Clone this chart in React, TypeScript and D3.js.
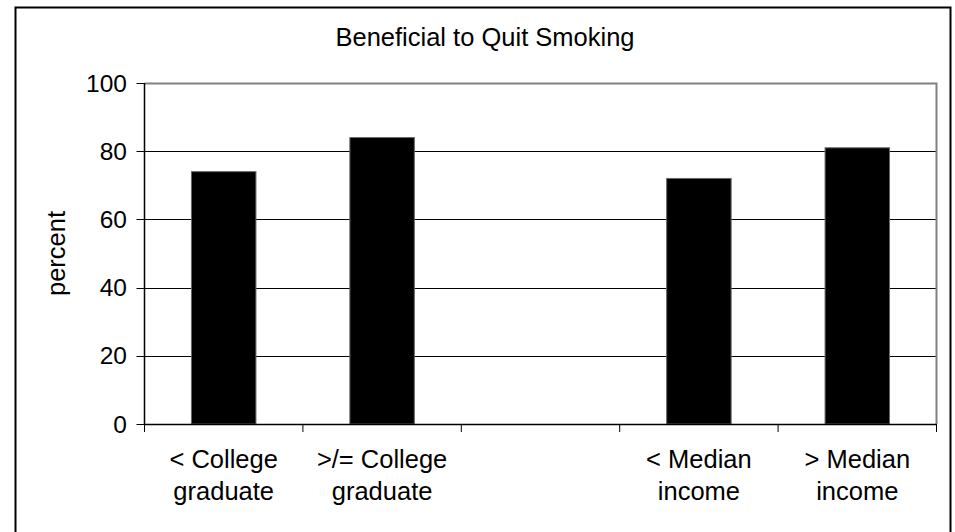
import React from "react";
import * as d3 from "d3";

// Category slots along the x axis (one slot intentionally left empty as a separator)
const categoryIds = ["lessCollege", "collegePlus", "gap", "lessMedian", "moreMedian"];
const categoryLines = [
  ["< College", "graduate"],
  [">/= College", "graduate"],
  [],
  ["< Median", "income"],
  ["> Median", "income"],
];
// Percent who think it is beneficial to quit smoking (null = empty slot)
const percentValues: (number | null)[] = [74, 84, null, 72, 81];
const yTicks = [0, 20, 40, 60, 80, 100];
const chartTitle = "Beneficial to Quit Smoking";
const yLabel = "percent";

const W = 955;
const H = 532;
const plot = { left: 144.5, right: 936.5, top: 83, bottom: 424 };
const FONT = "'Liberation Sans', Arial, sans-serif";

export default function App() {
  const x = d3
    .scaleBand<string>()
    .domain(categoryIds)
    .range([plot.left, plot.right])
    .paddingInner(0.593)
    .paddingOuter(0.2965);
  const y = d3.scaleLinear().domain([0, 100]).range([plot.bottom, plot.top]);
  const step = x.step();
  const boundaries = d3.range(categoryIds.length + 1).map((i) => plot.left + i * step);

  return (
    <svg
      width={W}
      height={H}
      style={{ position: "absolute", left: 0, top: 0, background: "#fff", display: "block" }}
      fontFamily={FONT}
    >
      <rect x={0} y={0} width={W} height={H} fill="#fff" />
      {/* outer chart frame (runs past the bottom edge) */}
      <rect x={15.5} y={7.5} width={935} height={530} fill="none" stroke="#000" strokeWidth={2} />

      <text x={485} y={46} fontSize={25.5} textAnchor="middle" fill="#000">
        {chartTitle}
      </text>

      {/* gridlines */}
      {yTicks
        .filter((t) => t > 0 && t < 100)
        .map((t) => (
          <line key={t} x1={plot.left} x2={plot.right} y1={Math.round(y(t)) + 0.5} y2={Math.round(y(t)) + 0.5} stroke="#000" strokeWidth={1} />
        ))}
      {/* plot area frame (top/right) */}
      <path
        d={`M${plot.left},${Math.round(plot.top) + 0.5}H${plot.right}V${plot.bottom}`}
        fill="none"
        stroke="#808080"
        strokeWidth={2}
      />

      {/* bars */}
      {percentValues.map((v, i) =>
        v == null ? null : (
          <rect
            key={categoryIds[i]}
            x={x(categoryIds[i])!}
            y={y(v)}
            width={x.bandwidth()}
            height={y(0) - y(v)}
            fill="#000"
            stroke="#666"
            strokeWidth={1}
          />
        )
      )}

      {/* y axis */}
      <line x1={plot.left} x2={plot.left} y1={plot.top} y2={plot.bottom} stroke="#000" strokeWidth={1.5} />
      {yTicks.map((t) => (
        <g key={t}>
          <line x1={plot.left - 8} x2={plot.left} y1={Math.round(y(t)) + 0.5} y2={Math.round(y(t)) + 0.5} stroke="#000" strokeWidth={1} />
          <text x={127} y={y(t) + 8.5} fontSize={24.5} textAnchor="end" fill="#000">
            {t}
          </text>
        </g>
      ))}

      {/* x axis */}
      <line x1={plot.left} x2={plot.right} y1={plot.bottom + 0.5} y2={plot.bottom + 0.5} stroke="#000" strokeWidth={1.5} />
      {boundaries.map((bx, i) => (
        <line key={i} x1={bx} x2={bx} y1={plot.bottom} y2={plot.bottom + 8} stroke="#000" strokeWidth={1} />
      ))}
      {categoryIds.map((id, i) => (
        <text key={id} x={x(id)! + x.bandwidth() / 2} y={468} fontSize={25.5} textAnchor="middle" fill="#000">
          {categoryLines[i].map((line, j) => (
            <tspan key={j} x={x(id)! + x.bandwidth() / 2} dy={j === 0 ? 0 : 32}>
              {line}
            </tspan>
          ))}
        </text>
      ))}

      <text
        transform={`translate(65, ${(plot.top + plot.bottom) / 2}) rotate(-90)`}
        fontSize={25.5}
        textAnchor="middle"
        fill="#000"
      >
        {yLabel}
      </text>
    </svg>
  );
}
